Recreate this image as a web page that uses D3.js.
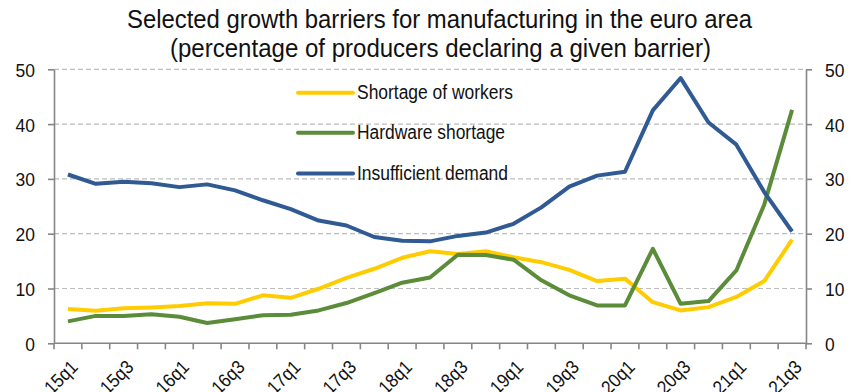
<!DOCTYPE html>
<html>
<head>
<meta charset="utf-8">
<script src="https://cdn.jsdelivr.net/npm/d3@7"></script>
<style>
  html, body { margin: 0; padding: 0; background: #fff; }
  svg { display: block; font-family: "Liberation Sans", Arial, sans-serif; }
</style>
</head>
<body>
<svg id="chart" width="855" height="392"></svg>
<script>
// Quarters on the horizontal axis
const quarters = ["15q1","15q2","15q3","15q4","16q1","16q2","16q3","16q4",
  "17q1","17q2","17q3","17q4","18q1","18q2","18q3","18q4",
  "19q1","19q2","19q3","19q4","20q1","20q2","20q3","20q4",
  "21q1","21q2","21q3"];
// Quarters that carry a label
const labelQuarters = ["15q1","15q3","16q1","16q3","17q1","17q3","18q1","18q3",
  "19q1","19q3","20q1","20q3","21q1","21q3"];
const yTicks = [0, 10, 20, 30, 40, 50];

// Share of producers (%) declaring each barrier
const shortageOfWorkers = [6.25, 5.95, 6.4, 6.55, 6.8, 7.3, 7.2, 8.75, 8.3, 9.95, 11.95, 13.6, 15.6, 16.8,
  16.3, 16.8, 15.7, 14.8, 13.4, 11.35, 11.8, 7.5, 6.0, 6.6, 8.45, 11.35, 18.9];
const hardwareShortage = [4.0, 5.0, 5.0, 5.3, 4.85, 3.7, 4.4, 5.1, 5.2, 6.0, 7.35, 9.15, 11.05, 12.0,
  16.15, 16.1, 15.25, 11.5, 8.75, 6.9, 6.9, 17.25, 7.2, 7.7, 13.3, 25.3, 42.6];
const insufficientDemand = [30.8, 29.1, 29.5, 29.2, 28.5, 29.0, 27.9, 26.1, 24.5, 22.4, 21.5, 19.4, 18.7, 18.6,
  19.6, 20.2, 21.8, 24.8, 28.6, 30.6, 31.3, 42.5, 48.4, 40.3, 36.25, 27.6, 20.4];

const seriesNames = ["Shortage of workers", "Hardware shortage", "Insufficient demand"];
const seriesColors = ["#FFCC00", "#5B8C3A", "#2F5A93"];
const series = [shortageOfWorkers, hardwareShortage, insufficientDemand].map((v, i) => ({
  name: seriesNames[i], color: seriesColors[i], values: v
}));

const svg = d3.select("#chart");
const plotLeft = 54, plotRight = 806, plotTop = 69.3, plotBottom = 343.3;

const x = d3.scaleBand().domain(quarters).range([plotLeft, plotRight]).padding(0);
const y = d3.scaleLinear().domain([0, 50]).range([plotBottom, plotTop]);
const axisColor = "#868686";

// Title (two lines)
const titleLines = [
  { text: "Selected growth barriers for manufacturing in the euro area", x: 127, y: 28.3, w: 625 },
  { text: "(percentage of producers declaring a given barrier)", x: 170, y: 56.5, w: 541 }
];
svg.selectAll("text.title").data(titleLines).join("text")
  .attr("class", "title")
  .attr("x", d => d.x).attr("y", d => d.y)
  .attr("textLength", d => d.w).attr("lengthAdjust", "spacingAndGlyphs")
  .attr("font-size", 25).attr("fill", "#111")
  .text(d => d.text);

// Dashed horizontal gridlines
svg.append("g").selectAll("line").data(yTicks.filter(d => d > 0)).join("line")
  .attr("x1", plotLeft).attr("x2", plotRight)
  .attr("y1", d => y(d)).attr("y2", d => y(d))
  .attr("stroke", "#BDBDBD").attr("stroke-width", 1.2)
  .attr("stroke-dasharray", "5,3");

// Left and right value axes
function styleAxis(g) {
  g.select(".domain").attr("stroke", axisColor).attr("stroke-width", 1.6);
  g.selectAll(".tick line").attr("stroke", axisColor).attr("stroke-width", 1.6);
  g.selectAll(".tick text").attr("fill", "#111").attr("font-size", 19);
}
const yLeft = svg.append("g").attr("transform", `translate(${plotLeft},0)`)
  .call(d3.axisLeft(y).tickValues(yTicks).tickSize(6).tickSizeOuter(0).tickPadding(0).tickFormat(d3.format("d")));
styleAxis(yLeft);
yLeft.selectAll(".tick text").attr("x", 0).attr("dy", null).attr("y", 7)
  .attr("transform", "translate(-19,0) scale(0.92,1)");

const yRight = svg.append("g").attr("transform", `translate(${plotRight},0)`)
  .call(d3.axisRight(y).tickValues(yTicks).tickSize(6).tickSizeOuter(0).tickPadding(0).tickFormat(d3.format("d")));
styleAxis(yRight);
yRight.selectAll(".tick text").attr("x", 0).attr("dy", null).attr("y", 7)
  .attr("transform", "translate(19,0) scale(0.92,1)");

// Category axis: ticks at band boundaries, labels on every other quarter
const xAxisG = svg.append("g").attr("transform", `translate(0,${plotBottom})`);
xAxisG.append("line").attr("x1", plotLeft).attr("x2", plotRight).attr("y1", 0).attr("y2", 0)
  .attr("stroke", axisColor).attr("stroke-width", 1.6);
const boundaries = quarters.map(q => x(q)).concat([x(quarters[quarters.length - 1]) + x.bandwidth()]);
xAxisG.selectAll("line.tk").data(boundaries).join("line").attr("class", "tk")
  .attr("x1", d => d).attr("x2", d => d).attr("y1", 0).attr("y2", 6)
  .attr("stroke", axisColor).attr("stroke-width", 1.6);
xAxisG.selectAll("text").data(labelQuarters).join("text")
  .attr("text-anchor", "end")
  .attr("font-size", 19).attr("fill", "#111")
  .attr("transform", d => `translate(${x(d) + x.bandwidth() / 2 + 11},${25}) rotate(-45) scale(0.9,1)`)
  .text(d => d);

// Series lines
const line = d3.line()
  .x((d, i) => x(quarters[i]) + x.bandwidth() / 2)
  .y(d => y(d));
svg.append("g").selectAll("path").data(series).join("path")
  .attr("fill", "none")
  .attr("stroke", d => d.color)
  .attr("stroke-width", 4)
  .attr("stroke-linejoin", "round")
  .attr("stroke-linecap", "butt")
  .attr("d", d => line(d.values));

// Legend
const legendY = [92.7, 132.7, 173.5];
const legendW = [156, 148, 151];
const legend = svg.append("g").selectAll("g").data(series).join("g")
  .attr("transform", (d, i) => `translate(298,${legendY[i]})`);
legend.append("line").attr("x1", 0).attr("x2", 55).attr("y1", 0).attr("y2", 0)
  .attr("stroke", d => d.color).attr("stroke-width", 4).attr("stroke-linecap", "round");
legend.append("text").attr("x", 59).attr("y", 6.6)
  .attr("font-size", 20).attr("fill", "#111")
  .attr("textLength", (d, i) => legendW[i]).attr("lengthAdjust", "spacingAndGlyphs")
  .text(d => d.name);
</script>
</body>
</html>
